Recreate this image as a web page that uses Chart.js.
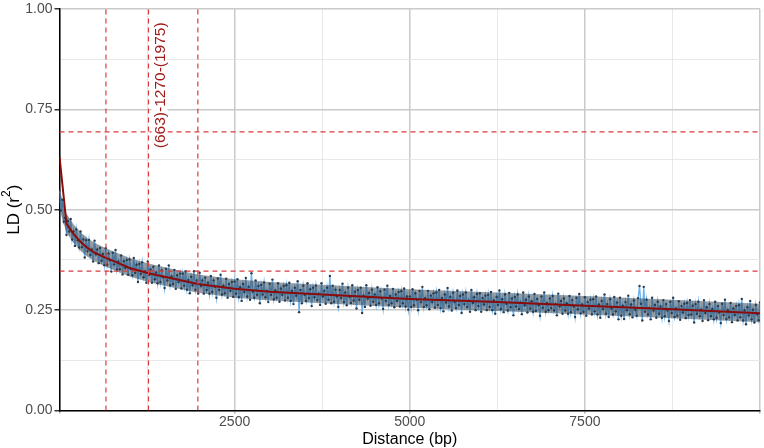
<!DOCTYPE html>
<html>
<head>
<meta charset="utf-8">
<script src="https://cdn.jsdelivr.net/npm/chart.js@4.4.1/dist/chart.umd.min.js"></script>
<style>
  html, body { margin: 0; padding: 0; background: #fff; }
  #wrap { width: 764px; height: 448px; }
</style>
</head>
<body>
<div id="wrap"><canvas id="ldChart"></canvas></div>
<script>
// ---------------- DATA ----------------
// binned LD (r^2) values, one every binStep bp starting at 0
const binStep = 20;
const ldValues = [
  // 0 - 980
  .548, .498, .525, .470, .480, .437, .472, .446, .477, .426, .446, .410, .451, .424, .406, .446, .407, .426, .381, .424,
  .397, .425, .387, .401, .371, .423, .389, .401, .367, .405, .373, .390, .362, .404, .363, .391, .374, .346, .393, .364,
  .400, .351, .371, .352, .386, .339, .372, .355, .375, .338,
  // 1000 - 1980
  .376, .353, .337, .380, .343, .363, .320, .365, .340, .369, .332, .347, .318, .371, .338, .351, .318, .358, .327, .344,
  .317, .361, .320, .349, .332, .305, .353, .324, .361, .312, .334, .315, .350, .303, .337, .320, .341, .304, .341, .311,
  .347, .301, .325, .292, .333, .312, .347, .301, .324, .291,
  // 2000 - 2980
  .343, .310, .324, .291, .331, .300, .318, .291, .335, .295, .324, .308, .281, .329, .300, .338, .289, .311, .292, .328,
  .281, .315, .298, .320, .283, .321, .291, .327, .282, .307, .273, .315, .295, .330, .284, .308, .276, .342, .296, .281,
  .324, .288, .310, .267, .313, .289, .319, .282, .298, .270,
  // 3000 - 3980
  .316, .288, .326, .277, .299, .281, .317, .271, .304, .288, .310, .274, .312, .281, .318, .273, .298, .265, .306, .286,
  .322, .245, .300, .267, .311, .288, .273, .317, .280, .302, .260, .306, .282, .311, .275, .291, .263, .317, .284, .298,
  .266, .306, .276, .335, .267, .311, .271, .301, .284, .258,
  // 4000 - 4980
  .300, .280, .316, .270, .294, .262, .306, .283, .268, .312, .274, .296, .254, .300, .276, .306, .243, .286, .258, .312,
  .279, .293, .261, .301, .271, .289, .263, .307, .267, .297, .279, .253, .301, .273, .311, .263, .285, .267, .303, .257,
  .289, .273, .295, .259, .297, .267, .304, .259, .284, .251,
  // 5000 - 5980
  .284, .258, .302, .262, .292, .276, .250, .298, .270, .308, .258, .280, .262, .298, .252, .286, .270, .292, .256, .294,
  .263, .300, .255, .280, .247, .289, .269, .305, .259, .283, .249, .293, .270, .255, .299, .263, .285, .243, .289, .265,
  .294, .258, .274, .246, .300, .268, .282, .250, .290, .260,
  // 6000 - 6980
  .292, .246, .280, .264, .286, .250, .288, .258, .295, .250, .274, .241, .283, .263, .299, .253, .277, .245, .289, .266,
  .249, .293, .257, .279, .237, .283, .259, .289, .253, .269, .240, .294, .262, .276, .244, .284, .254, .272, .246, .290,
  .248, .278, .262, .236, .284, .256, .294, .246, .268, .250,
  // 7000 - 7980
  .279, .255, .285, .249, .265, .237, .291, .259, .273, .241, .279, .249, .267, .241, .285, .245, .275, .259, .233, .281,
  .252, .290, .242, .264, .246, .282, .236, .270, .254, .276, .239, .277, .247, .284, .239, .264, .231, .273, .253, .289,
  .241, .265, .233, .277, .254, .239, .283, .247, .269, .227,
  // 8000 - 8980
  .281, .236, .261, .228, .270, .250, .286, .240, .264, .232, .274, .251, .236, .280, .310, .266, .224, .308, .246, .276,
  .239, .255, .227, .281, .249, .263, .231, .271, .241, .259, .231, .275, .235, .265, .249, .223, .271, .243, .281, .233,
  .254, .236, .272, .226, .260, .244, .266, .230, .268, .238,
  // 9000 - 10000
  .275, .239, .261, .219, .265, .241, .271, .235, .251, .223, .275, .243, .257, .225, .265, .235, .253, .227, .271, .231,
  .260, .244, .218, .266, .238, .276, .228, .250, .232, .268, .220, .254, .238, .260, .224, .262, .232, .278, .224, .249,
  .215, .257, .237, .273, .227, .251, .219, .263, .240, .225, .269
];

// dense central part of the cloud
const coreDistance = [0, 100, 200, 300, 400, 500, 663, 800, 1000, 1270, 1500, 1975, 2500, 3000, 3750, 5000, 6250, 7500, 8750, 10000];
const coreUpper = [.550, .490, .464, .444, .429, .418, .404, .394, .380, .366, .357, .339, .327, .320, .313, .302, .294, .285, .276, .266];
const coreLower = [.500, .443, .418, .398, .383, .372, .358, .348, .334, .320, .311, .293, .281, .274, .267, .256, .248, .239, .230, .220];

// fitted decay curve
const fitDistance = [0, 100, 200, 300, 400, 500, 663, 800, 1000, 1270, 1500, 1975, 2500, 3000, 3750, 5000, 6250, 7500, 8750, 10000];
const fitLd = [0.632, 0.465, 0.44, 0.42, 0.405, 0.393, 0.38, 0.37, 0.355, 0.342, 0.333, 0.315, 0.303, 0.296, 0.289, 0.278, 0.27, 0.261, 0.252, 0.242];

// decay cut-offs
const cutoffDistances = [663, 1270, 1975];
const cutoffLd = [0.694, 0.347];
const cutoffLabel = "(663)-1270-(1975)";

const xMax = 10000;

// ---------------- HELPERS ----------------
const isMajorX = (v) => v % 2500 === 0;
const isMajorY = (v) => Math.abs(v * 4 - Math.round(v * 4)) < 1e-6;
const FONT = "'Liberation Sans', Arial, sans-serif";

Chart.defaults.font.family = FONT;

const ldPoints = ldValues.map((v, i) => ({ x: i * binStep, y: v }));

const dashedRed = {
  type: "line",
  borderColor: "#dc3b3e",
  borderWidth: 1.2,
  borderDash: [5, 4],
  pointRadius: 0,
  fill: false,
};

const datasets = [];

// LD cloud: light blue connecting line
datasets.push({
  type: "line",
  data: ldPoints,
  borderColor: "#6fb3ea",
  borderWidth: 1.4,
  pointRadius: 0,
  order: 6,
});
// dense core band
datasets.push({
  type: "line",
  data: coreDistance.map((d, i) => ({ x: d, y: coreLower[i] })),
  borderWidth: 0,
  pointRadius: 0,
  order: 5,
});
datasets.push({
  type: "line",
  data: coreDistance.map((d, i) => ({ x: d, y: coreUpper[i] })),
  borderWidth: 0,
  pointRadius: 0,
  fill: "-1",
  backgroundColor: "rgba(40, 60, 78, 0.5)",
  order: 5,
});
// LD cloud: dark points
datasets.push({
  type: "line",
  data: ldPoints,
  showLine: false,
  pointRadius: 1.2,
  pointBorderWidth: 0,
  pointBackgroundColor: "#2a3c4e",
  order: 4,
});

// fitted line
datasets.push({
  type: "line",
  data: fitDistance.map((d, i) => ({ x: d, y: fitLd[i] })),
  borderColor: "#8b0a0a",
  borderWidth: 2,
  pointRadius: 0,
  order: 2,
});

cutoffDistances.forEach((d) => {
  datasets.push({ ...dashedRed, data: [{ x: d, y: 0 }, { x: d, y: 1 }], order: 1 });
});
cutoffLd.forEach((v) => {
  datasets.push({ ...dashedRed, data: [{ x: 0, y: v }, { x: xMax, y: v }], order: 3 });
});

// ---------------- TEXT PLUGIN ----------------
const textPlugin = {
  id: "ldText",
  afterDatasetsDraw(chart) {
    const { ctx, scales } = chart;
    // cut-off label
    const x = scales.x.getPixelForValue(cutoffDistances[1]) + 11;
    const y = scales.y.getPixelForValue(0.81);
    ctx.save();
    ctx.translate(x, y);
    ctx.rotate(-Math.PI / 2);
    ctx.font = "15.5px " + FONT;
    const w = ctx.measureText(cutoffLabel).width;
    ctx.fillStyle = "#fff";
    ctx.fillRect(-w / 2 - 3, -8, w + 6, 16);
    ctx.fillStyle = "#a11b1b";
    ctx.textAlign = "center";
    ctx.textBaseline = "middle";
    ctx.fillText(cutoffLabel, 0, 1);
    ctx.restore();
  },
  afterDraw(chart) {
    const { ctx, chartArea } = chart;
    // y axis title with superscript
    const parts = [["LD (r", 17, 0], ["2", 12, -7], [")", 17, 0]];
    ctx.save();
    ctx.translate(13, (chartArea.top + chartArea.bottom) / 2);
    ctx.rotate(-Math.PI / 2);
    ctx.fillStyle = "#000";
    ctx.textBaseline = "middle";
    let total = 0;
    parts.forEach(([t, s]) => { ctx.font = s + "px " + FONT; total += ctx.measureText(t).width; });
    let cx = -total / 2;
    parts.forEach(([t, s, dy]) => {
      ctx.font = s + "px " + FONT;
      ctx.fillText(t, cx, 1 + dy);
      cx += ctx.measureText(t).width;
    });
    ctx.restore();
  },
};

// ---------------- CHART ----------------
new Chart(document.getElementById("ldChart"), {
  data: { datasets: datasets },
  options: {
    responsive: true,
    maintainAspectRatio: false,
    animation: false,
    layout: { padding: { top: 6, right: 0, left: 0, bottom: 0 } },
    plugins: {
      legend: { display: false },
      tooltip: { enabled: false },
    },
    scales: {
      x: {
        type: "linear",
        min: 0,
        max: xMax,
        ticks: {
          stepSize: 1250,
          autoSkip: false,
          maxRotation: 0,
          padding: 0,
          color: "#4d4d4d",
          font: { size: 14 },
          callback: (v) => (isMajorX(v) && v > 0 && v < xMax ? String(v) : ""),
        },
        grid: {
          color: (c) => (isMajorX(c.tick.value) ? "#cacaca" : "#e2e2e2"),
          lineWidth: (c) => (isMajorX(c.tick.value) ? 1.5 : 0.8),
          tickLength: 3,
          tickColor: (c) => (isMajorX(c.tick.value) ? "#b0b0b0" : "rgba(0,0,0,0)"),
        },
        border: { color: "#000", width: 1.5 },
        title: {
          display: true,
          text: "Distance (bp)",
          color: "#000",
          font: { size: 16, lineHeight: 1.1 },
          padding: 0,
        },
        afterFit: (s) => { s.height = 37.5; },
      },
      y: {
        min: 0,
        max: 1,
        ticks: {
          stepSize: 0.125,
          autoSkip: false,
          padding: 2,
          color: "#4d4d4d",
          font: { size: 14, lineHeight: 1 },
          callback: (v) => (isMajorY(v) ? v.toFixed(2) : ""),
        },
        grid: {
          color: (c) => (isMajorY(c.tick.value) ? "#cacaca" : "#e2e2e2"),
          lineWidth: (c) => (isMajorY(c.tick.value) ? 1.5 : 0.8),
          tickLength: 5,
          tickColor: (c) => (isMajorY(c.tick.value) ? "#333" : "rgba(0,0,0,0)"),
        },
        border: { color: "#000", width: 1.5 },
        title: { display: false },
        afterFit: (s) => { s.width = 59.5; },
      },
    },
  },
  plugins: [textPlugin],
});
</script>
</body>
</html>
